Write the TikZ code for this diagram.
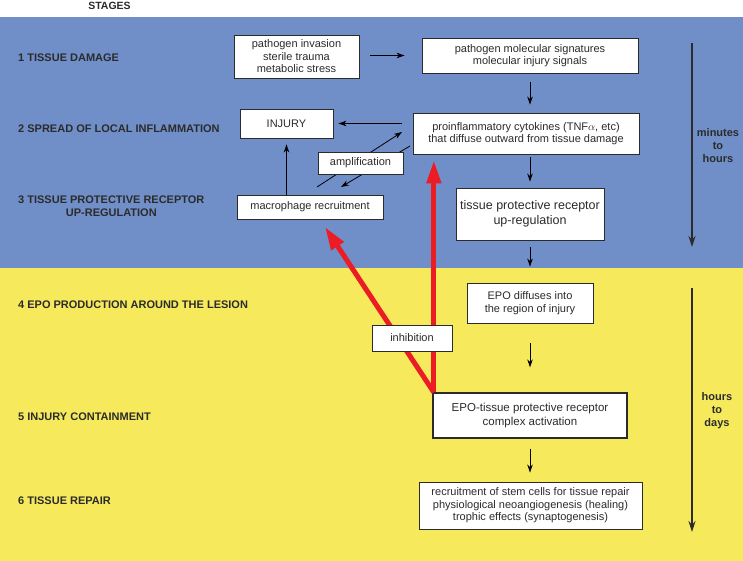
\documentclass[tikz,border=0pt]{standalone}
\usepackage{fontspec}
\setmainfont{Liberation Sans}
\usetikzlibrary{arrows.meta}
\definecolor{bandblue}{HTML}{708FC8}
\definecolor{bandyellow}{HTML}{F6EA5C}
\definecolor{redarr}{HTML}{EC1C24}
\definecolor{ink}{HTML}{2B2B2B}
\begin{document}
\begin{tikzpicture}[x=1pt,y=-1pt,
  box/.style={draw=ink, line width=0.9pt, fill=white, inner sep=0pt, align=center,
    font=\fontsize{11}{12.5}\selectfont, text=ink},
  stage/.style={anchor=west, inner sep=0pt, font=\fontsize{11}{13}\selectfont\bfseries,
    text=ink, align=center},
  timelbl/.style={inner sep=0pt, font=\fontsize{11}{13}\selectfont\bfseries, text=ink, align=center},
  arr/.style={draw=black, line width=0.8pt, -{Stealth[length=8pt,width=5.5pt]}},
  redarrow/.style={draw=redarr, line width=5pt, -{Triangle[length=23pt,width=14pt]}},
  timearr/.style={draw=ink, line width=1.5pt, -{Stealth[length=11pt,width=7pt]}}
]
\useasboundingbox (0,0) rectangle (743,561);
% background bands
\fill[white] (0,0) rectangle (743,17);
\fill[bandblue] (0,17) rectangle (743,268);
\fill[bandyellow] (0,268) rectangle (743,561);

% header and stage labels
\node[timelbl, font=\fontsize{10.5}{12}\selectfont\bfseries] (stages) at (109.5,6) {STAGES};
\node[stage] (s1) at (18,58) {1 TISSUE DAMAGE};
\node[stage] (s2) at (18,129) {2 SPREAD OF LOCAL INFLAMMATION};
\node[stage] (s3) at (18,206) {3 TISSUE PROTECTIVE RECEPTOR\\UP-REGULATION};
\node[stage] (s4) at (18,305) {4 EPO PRODUCTION AROUND THE LESION};
\node[stage] (s5) at (18,416.5) {5 INJURY CONTAINMENT};
\node[stage] (s6) at (18,500.5) {6 TISSUE REPAIR};

% amplification loop lines (behind the amplification box)
\coordinate (a1s) at (317,187);
\coordinate (a1e) at (402,132);
\coordinate (a2s) at (410,146);
\coordinate (a2e) at (341,187);
\draw[arr] (a1s) -- (a1e);
\draw[arr] (a2s) -- (a2e);

% boxes
\node[box, minimum width=125pt, minimum height=43pt] (path) at (296.5,56.5)
  {pathogen invasion\\sterile trauma\\metabolic stress};
\node[box, minimum width=216pt, minimum height=35pt] (sig) at (530,55.5)
  {pathogen molecular signatures\\molecular injury signals};
\node[box, minimum width=93pt, minimum height=29pt] (injury) at (286.5,123.5) {INJURY};
\node[box, minimum width=226pt, minimum height=41pt] (cyto) at (526,133.5)
  {proinflammatory cytokines (TNF$\alpha$, etc)\\that diffuse outward from tissue damage};
\node[box, minimum width=85pt, minimum height=22pt] (amp) at (360.5,163) {amplification};
\node[box, minimum width=146pt, minimum height=24pt] (macro) at (310,207) {macrophage recruitment};
\node[box, minimum width=148pt, minimum height=52pt, font=\fontsize{12.5}{15}\selectfont] (tpr) at (530,214)
  {tissue protective receptor\\up-regulation};
\node[box, minimum width=126pt, minimum height=40pt, font=\fontsize{11}{13}\selectfont] (epo) at (530,303)
  {EPO diffuses into\\the region of injury};
\node[box, line width=1.3pt, minimum width=194pt, minimum height=45pt, font=\fontsize{11.5}{14}\selectfont] (epotpr) at (530,415.5)
  {EPO-tissue protective receptor\\complex activation};
\node[box, minimum width=223pt, minimum height=47pt] (repair) at (530.5,505.5)
  {recruitment of stem cells for tissue repair\\physiological neoangiogenesis (healing)\\trophic effects (synaptogenesis)};

% black connectors
\draw[arr, shorten <=11pt, shorten >=17pt] (path.east |- sig.west) -- (sig.west);
\draw[arr, shorten <=9pt, shorten >=8pt] (sig.south) -- (sig.south |- cyto.north);
\draw[arr, shorten <=11pt, shorten >=5pt] (cyto.west |- injury.east) -- (injury.east);
\draw[arr, shorten <=3pt, shorten >=6pt] (cyto.south -| tpr.north) -- (tpr.north);
\draw[arr, shorten >=6pt] (injury.south |- macro.north) -- (injury.south);
\draw[arr, shorten <=7pt, shorten >=16pt] (tpr.south) -- (epo.north);
\draw[arr, shorten <=20pt, shorten >=25pt] (epo.south) -- (epotpr.north);
\draw[arr, shorten <=10pt, shorten >=9pt] (epotpr.south) -- (epotpr.south |- repair.north);

% red inhibition arrows
\coordinate (rbase) at ([xshift=1.5pt]epotpr.north west);
\coordinate (mtip) at (325,227);
\draw[redarrow, shorten >=6pt] (rbase) -- (rbase |- cyto.south);
\draw[redarrow] (rbase) -- (mtip);
\node[box, minimum width=80pt, minimum height=26pt] (inhib) at (412,338) {inhibition};

% time line
\coordinate (t1a) at (692,43);
\coordinate (t1b) at (692,247);
\coordinate (t2a) at (692,288);
\coordinate (t2b) at (692,532);
\draw[timearr] (t1a) -- (t1b);
\draw[timearr] (t2a) -- (t2b);
\node[timelbl] (tl1) at (718,145.5) {minutes\\to\\hours};
\node[timelbl] (tl2) at (717,411) {hours\\to\\days};
\end{tikzpicture}
\end{document}
